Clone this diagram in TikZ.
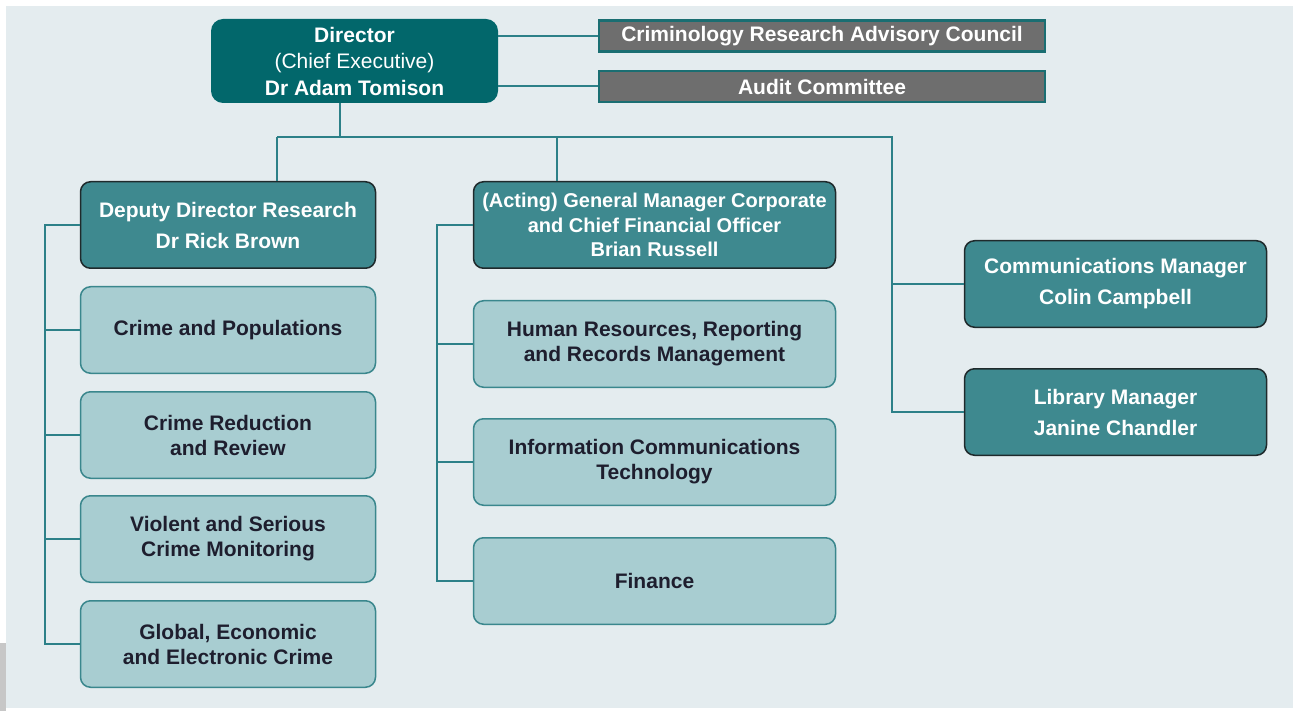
\documentclass[tikz,border=0pt]{standalone}
\usepackage{fontspec}
\setmainfont{Liberation Sans}
\usepackage{tikz}
\usetikzlibrary{positioning}

\definecolor{panel}{HTML}{E4ECEF}
\definecolor{dirteal}{HTML}{02676B}
\definecolor{leadteal}{HTML}{3E898F}
\definecolor{leadedge}{HTML}{1F2A2C}
\definecolor{unitfill}{HTML}{A8CDD1}
\definecolor{unitedge}{HTML}{3A878D}
\definecolor{boardgrey}{HTML}{6E6E6E}
\definecolor{boardedge}{HTML}{1A6E72}
\definecolor{linkteal}{HTML}{2C8088}
\definecolor{unittext}{HTML}{1E1E2E}

\begin{document}
\begin{tikzpicture}
[x=1pt, y=-1pt, font=\fontsize{21}{25}\selectfont\bfseries,
% STYLES
% the chief executive at the top
director/.style={rectangle, rounded corners=12pt, fill=dirteal, text=white, align=center, minimum width=287pt, minimum height=84pt, inner sep=2pt},
% advisory bodies beside the director
board/.style={rectangle, fill=boardgrey, draw=boardedge, line width=2.5pt, text=white, minimum width=446pt, minimum height=31pt, inner sep=2pt},
% heads of the branches
lead/.style={rectangle, rounded corners=10pt, fill=leadteal, draw=leadedge, line width=1.5pt, text=white, align=center, minimum height=86.5pt, inner sep=2pt},
% sections under each head
unit/.style={rectangle, rounded corners=10pt, fill=unitfill, draw=unitedge, line width=1.5pt, text=unittext, align=center, minimum height=86.5pt, inner sep=2pt},
% reporting lines
link/.style={draw=linkteal, line width=2pt}]

\useasboundingbox (0,0) rectangle (1293,711);
\fill[white] (0,0) rectangle (1293,711);
\fill[panel] (6,6) rectangle (1293,708);
\fill[black!22] (0,643) rectangle (6,711);

% Draw the top level
\node [director] (dir) at (354.5,61) {Director\\[1.5pt]
  {\mdseries (Chief Executive)}\\[1.5pt]
  Dr Adam Tomison};
\node [board] (crac) at (822,36) {Criminology Research Advisory Council};
\node [board, below=17pt of crac] (audit) {Audit Committee};

% Research branch
\node [lead, minimum width=295pt] (dep) at (228,225) {Deputy Director Research\\[6pt] Dr Rick Brown};
\node [unit, minimum width=295pt, below=17pt of dep] (pop) {Crime and Populations};
\node [unit, minimum width=295pt, below=17pt of pop] (red) {Crime Reduction\\and Review};
\node [unit, minimum width=295pt, below=16pt of red] (vio) {Violent and Serious\\Crime Monitoring};
\node [unit, minimum width=295pt, below=17pt of vio] (glob) {Global, Economic\\and Electronic Crime};

% Corporate branch
\node [lead, minimum width=362pt, font=\fontsize{20}{24.5}\selectfont\bfseries] (gm) at (654.5,225)
  {(Acting) General Manager Corporate\\and Chief Financial Officer\\Brian Russell};
\node [unit, minimum width=362pt, below=31pt of gm] (hr) {Human Resources, Reporting\\and Records Management};
\node [unit, minimum width=362pt, below=30pt of hr] (ict) {Information Communications\\Technology};
\node [unit, minimum width=362pt, below=31pt of ict] (fin) {Finance};

% Managers reporting straight to the director
\node [lead, minimum width=302pt] (comm) at (1115.5,284) {Communications Manager\\[6pt] Colin Campbell};
\node [lead, minimum width=302pt, below=40pt of comm] (lib) {Library Manager\\[6pt] Janine Chandler};

% Draw the links
\coordinate (bus) at (340,137);
\coordinate (rsp) at (892,137);
\coordinate (lsp) at ([xshift=-35pt]dep.west);
\coordinate (msp) at ([xshift=-36pt]gm.west);

\path[link] (crac.west -| dir.east) -- (crac.west);
\path[link] (audit.west -| dir.east) -- (audit.west);
\path[link] (dir.south -| bus) -- (bus);
\path[link] ([xshift=49pt]dep.north |- bus) -- (rsp) |- (lib.west);
\path[link] ([xshift=49pt]dep.north |- bus) -- ([xshift=49pt]dep.north);
\path[link] ([xshift=-97.5pt]gm.north |- bus) -- ([xshift=-97.5pt]gm.north);
\path[link] (rsp |- comm.west) -- (comm.west);

\path[link] (dep.west) -- (lsp) |- (glob.west);
\foreach \n in {pop,red,vio}
  \path[link] (lsp |- \n.west) -- (\n.west);

\path[link] (gm.west) -- (msp) |- (fin.west);
\foreach \n in {hr,ict}
  \path[link] (msp |- \n.west) -- (\n.west);

\end{tikzpicture}
\end{document}
